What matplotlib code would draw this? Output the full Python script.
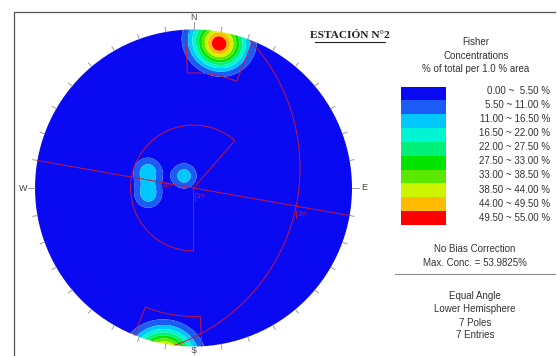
import numpy as np
import matplotlib
matplotlib.use("Agg")
import matplotlib.pyplot as plt
from matplotlib.patches import Circle, Rectangle

# poles (trend / plunge in degrees, lower hemisphere)
pole_trend = [7, 10, 12, 11, 322, 290, 262]
pole_plunge = [4, 3, 6, 5, 79, 56, 58]

# Fisher contour intervals (% of total per 1 % area) and their colours
levels = [0.0, 5.5, 11.0, 16.5, 22.0, 27.5, 33.0, 38.5, 44.0, 49.5, 55.0]
level_colors = ['#0a0af2', '#1a5cf5', '#00c8ff', '#00f5d2', '#00f07a',
                '#00e400', '#5ae800', '#cdf500', '#ffbb00', '#ff0000']
level_labels = ['%.2f ~ %5.2f %%' % (levels[i], levels[i + 1]) for i in range(10)]

info_top = ['Fisher', 'Concentrations', '% of total per 1.0 % area']
info_mid = ['No Bias Correction', 'Max. Conc. = 53.9825%']
info_bot = ['Equal Angle', 'Lower Hemisphere', '7 Poles', '7 Entries']

# figure is 557x356 px, the net is centred at (193.5, 188) px with radius 158.5 px
CX, CY, RPX = 193.5, 188.0, 158.5
W, H = 557, 356
red = '#c8143c'


def pix(x, y):
    # pixel position -> data units of the net
    return (x - CX) / RPX, (CY - y) / RPX


def polar(az, r):
    a = np.radians(az)
    return r * np.sin(a), r * np.cos(a)


def to_vec(trend, plunge):
    t, p = np.radians(trend), np.radians(plunge)
    return np.array([np.cos(p) * np.sin(t), np.cos(p) * np.cos(t), np.sin(p)])


fig = plt.figure(figsize=(W / 100, H / 100), dpi=100)
ax = fig.add_axes([0, 0, 1, 1])
x0, y1 = pix(0, 0)
x1, y0 = pix(W, H)
ax.set_xlim(x0, x1)
ax.set_ylim(y0, y1)
ax.set_aspect('equal')
ax.axis('off')

# frame
fx0, fy0 = pix(14, 12)
fx1, fy1 = pix(555, 360)
ax.plot([fx0, fx0, fx1], [fy1, fy0, fy0], color='#555555', lw=0.9, clip_on=False)

# ---- Fisher density on an equal angle grid ----
g = np.linspace(-1.03, 1.03, 421)
X, Y = np.meshgrid(g, g)
theta = 2 * np.arctan(np.hypot(X, Y))
azg = np.arctan2(X, Y)
V = np.stack([np.sin(theta) * np.sin(azg), np.sin(theta) * np.cos(azg), np.cos(theta)], axis=-1)
K = 78.0
dens = np.zeros_like(X)
for t, p in zip(pole_trend, pole_plunge):
    c = np.abs(V @ to_vec(t, p))
    dens += np.exp(K * (c - 1))
dens *= 100.0 / len(pole_trend)
dens = np.clip(dens, 0, 54.99)

prim = Circle((0, 0), 1, transform=ax.transData)
cs = ax.contourf(X, Y, dens, levels=levels, colors=level_colors, antialiased=True)
cs.set_clip_path(prim)

# ---- tick marks and compass letters ----
for a in range(0, 360, 10):
    rr = 1.045 if a % 90 == 0 else 1.03
    xa, ya = polar(a, 1.0)
    xb, yb = polar(a, rr)
    ax.plot([xa, xb], [ya, yb], color='#8c8c8c', lw=0.6)
for lab, a, rr in zip(['N', 'E', 'S', 'W'], [0, 90, 180, 270], [1.075, 1.075, 1.025, 1.075]):
    xt, yt = polar(a, rr)
    ax.text(xt, yt, lab, ha='center', va='center', fontsize=6.5,
            color='#444444', family='Liberation Sans')

# ---- red overlay ----
# traverse line through the centre
xa, ya = polar(280, 1.0)
xb, yb = polar(100, 1.0)
ax.plot([xa, xb], [ya, yb], color=red, lw=0.7)

# central wedge
arc = np.linspace(41, -180, 120)
wx, wy = polar(arc, 0.397)
ax.plot(np.r_[0, wx, 0], np.r_[0, wy, 0], color=red, lw=0.7)

# box at the north
arc = np.linspace(-3, 22, 40)
bx, by = polar(arc, 0.726)
ex0, ey0 = polar(-3, 1.0)
ex1, ey1 = polar(22, 0.985)
ax.plot(np.r_[ex0, bx, ex1], np.r_[ey0, by, ey1], color=red, lw=0.7)

# box at the south
arc = np.linspace(202, 177, 40)
bx, by = polar(arc, 0.81)
ex0, ey0 = polar(202, 1.0)
ex1, ey1 = polar(177, 1.0)
ax.plot(np.r_[ex0, bx, ex1], np.r_[ey0, by, ey1], color=red, lw=0.7)

# large arc
big = Circle((-0.514, 0.126), 1.186, fill=False, edgecolor=red, lw=0.7)
ax.add_patch(big)
big.set_clip_path(Circle((0, 0), 1, transform=ax.transData))

# distance marks
for (tx, ty), lab in zip([(-0.165, 0.016), (0.045, -0.054), (0.685, -0.167)],
                         ['2m', '1m', '2m']):
    ax.plot([tx - 0.038, tx - 0.038], [ty + 0.025, ty - 0.025], color=red, lw=0.6)
    ax.text(tx, ty, lab, color=red, fontsize=5, ha='center', va='center',
            family='Liberation Sans')

# ---- title ----
tx, ty = pix(350, 35)
ax.text(tx, ty, 'ESTACIÓN N°2', ha='center', va='center', fontsize=8.2,
        fontweight='bold', family='Liberation Serif', color='#222222')
ux0, uy = pix(315, 42)
ux1, _ = pix(385, 42)
ax.plot([ux0, ux1], [uy, uy], color='#222222', lw=0.8)

# ---- legend ----
txt = dict(ha='center', va='center', fontsize=7, color='#333333', family='Liberation Sans')
for s, py in zip(info_top, [42, 56, 68.5]):
    ax.text(*pix(476, py), s, **txt)

top = 86.5
step = 13.85
for i, (col, lab) in enumerate(zip(level_colors, level_labels)):
    rx, ry = pix(401, top + step * (i + 1))
    ax.add_patch(Rectangle((rx, ry), 45 / RPX, step / RPX, facecolor=col, edgecolor='none'))
    ax.text(*pix(550, top + 4 + step * i + 0.3 * i), lab, ha='right', va='center',
            fontsize=7, color='#333333', family='Liberation Sans')

for s, py in zip(info_mid, [249.5, 262.5]):
    ax.text(*pix(475, py), s, **txt)

lx0, ly = pix(395, 273.5)
lx1, _ = pix(555, 273.5)
ax.plot([lx0, lx1], [ly, ly], color='#888888', lw=0.8)

for s, py in zip(info_bot, [296, 309.5, 322.5, 335.5]):
    ax.text(*pix(475, py), s, **txt)

fig.savefig('out.png', dpi=100)
